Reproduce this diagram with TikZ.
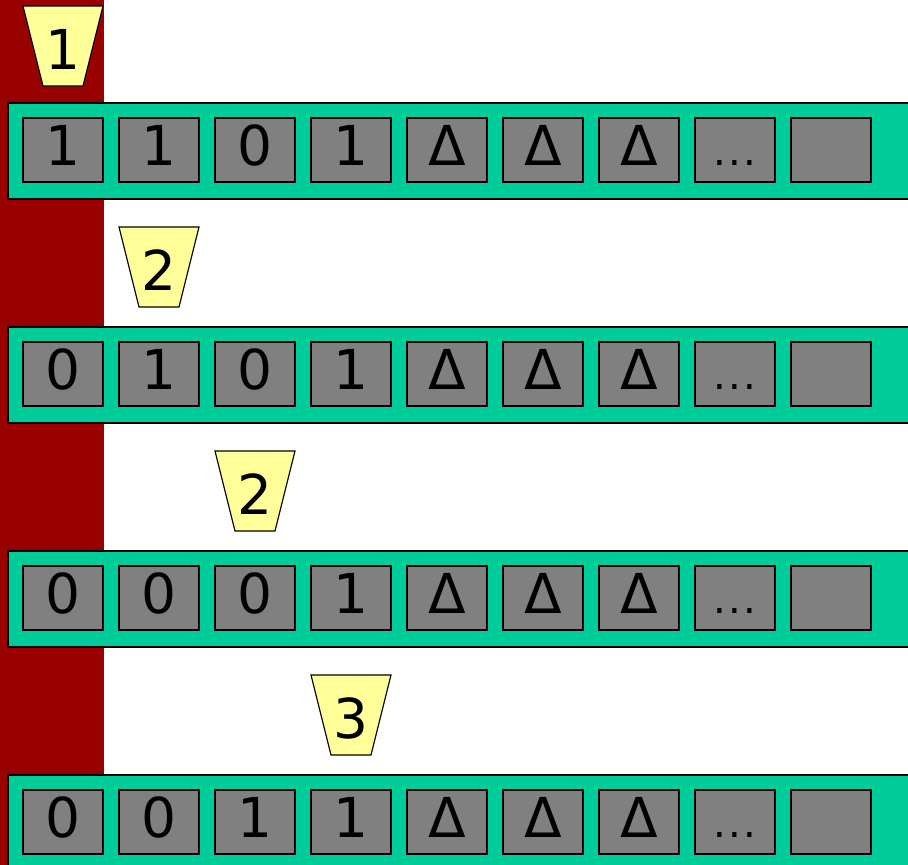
\documentclass[tikz,border=0pt]{standalone}
\usepackage{fontspec}
\setmainfont{DejaVu Sans}
\usetikzlibrary{calc}
\definecolor{BarRed}{HTML}{990000}
\definecolor{TapeGreen}{HTML}{00CC99}
\definecolor{CellGrey}{HTML}{808080}
\definecolor{HeadYellow}{HTML}{FFFF99}
\tikzset{
  every node/.style={font=\fontsize{55}{60}\selectfont, text=black},
  tape/.style={draw=black, line width=1.5pt, fill=TapeGreen, anchor=north west,
    minimum width=930pt, minimum height=96pt, inner sep=0pt},
  cell/.style={draw=black, line width=1.5pt, fill=CellGrey, inner sep=0pt,
    minimum width=80pt, minimum height=64pt, text height=30pt, text depth=0pt},
  head/.style={draw=black, line width=1.2pt, fill=HeadYellow},
  headlabel/.style={inner sep=0pt, text height=46pt, text depth=0pt},
}
\newcommand{\tapedots}{{\fontsize{40}{40}\selectfont.\kern2.5pt.\kern2.5pt.}}
\begin{document}
\begin{tikzpicture}[x=1pt,y=-1pt]
  % pixel grid of the slide, y grows downward
  \useasboundingbox (0,0) rectangle (908,865);
  \clip (0,0) rectangle (908,865);
  % left end of the tape
  \fill[BarRed] (0,0) rectangle (104,865);
  % four snapshots, 224 apart; head moves one cell right each time
  \foreach \r/\bits/\state/\hy in {0/{1,1,0,1}/1/6, 1/{0,1,0,1}/2/227,
                                   2/{0,0,0,1}/2/451, 3/{0,0,1,1}/3/675}{
    \pgfmathsetmacro{\rowy}{102+224*\r}
    \node[tape] (tape\r) at (7,\rowy) {};
    \foreach \b [count=\k from 0] in \bits
      \node[cell] (c\r\k) at (63+96*\k,\rowy+48) {\b};
    \foreach \k in {4,5,6}
      \node[cell] (c\r\k) at (63+96*\k,\rowy+48) {Δ};
    \node[cell] (c\r7) at (63+96*7,\rowy+48) {\tapedots};
    \node[cell] (c\r8) at (63+96*8,\rowy+48) {};
    % read/write head
    \pgfmathsetmacro{\hx}{23+96*\r}
    \filldraw[head] (\hx,\hy) -- ++(80,0) -- ++(-20,80) -- ++(-40,0) -- cycle;
    \node[headlabel] (head\r) at (\hx+40,\hy+40) {\state};
  }
\end{tikzpicture}
\end{document}
